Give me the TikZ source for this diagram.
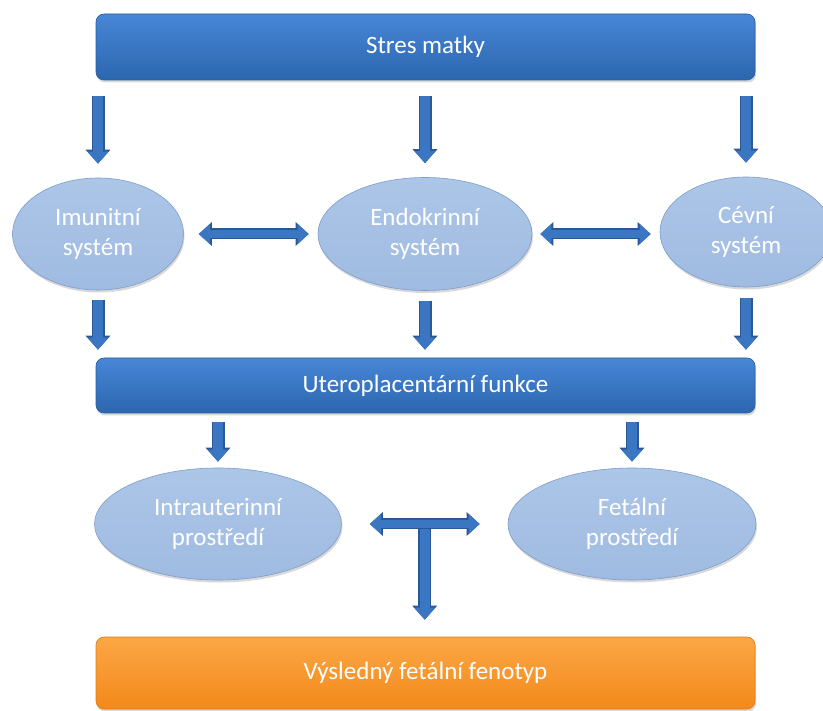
\documentclass[tikz,border=0pt]{standalone}
\usepackage{fontspec}
\setmainfont{Carlito}
\usetikzlibrary{shapes.geometric,arrows.meta,shadows,calc}
\definecolor{bartop}{HTML}{4787D7}
\definecolor{barbot}{HTML}{2C66AE}
\definecolor{barline}{HTML}{2A5E9E}
\definecolor{eltop}{HTML}{ACC6E8}
\definecolor{elbot}{HTML}{A0BBE1}
\definecolor{elline}{HTML}{7C9DCB}
\definecolor{arrowc}{HTML}{3B76C3}
\definecolor{arrowd}{HTML}{2A5896}
\definecolor{ortop}{HTML}{FBA745}
\definecolor{orbot}{HTML}{F3891B}
\definecolor{orline}{HTML}{E07E16}
\begin{document}
\begin{tikzpicture}[x=1pt,y=-1pt,
  bar/.style={rectangle, rounded corners=8pt, minimum width=659pt,
    draw=barline, line width=0.6pt, top color=bartop, bottom color=barbot,
    text=white, font=\fontsize{25}{28}\selectfont, inner sep=0pt,
    drop shadow={opacity=0.3, shadow xshift=1pt, shadow yshift=-2.5pt}},
  obar/.style={bar, draw=orline, top color=ortop, bottom color=orbot},
  oval/.style={ellipse, draw=elline, line width=0.6pt, top color=eltop,
    bottom color=elbot, text=white, align=center, inner sep=0pt,
    font=\fontsize{25}{30}\selectfont,
    drop shadow={opacity=0.3, shadow xshift=1pt, shadow yshift=-2.5pt}},
  vflow/.style={line width=10pt, draw=arrowc, -{Triangle[length=12pt,width=20pt]},
    preaction={draw=arrowd, line width=13pt, -{Triangle[length=14pt,width=24pt]}}},
  hflow/.style={line width=8.5pt, draw=arrowc,
    {Triangle[length=11pt,width=19pt]}-{Triangle[length=11pt,width=19pt]},
    preaction={draw=arrowd, line width=11pt,
      {Triangle[length=13pt,width=23pt]}-{Triangle[length=13pt,width=23pt]}}}
]
\useasboundingbox (0,0) rectangle (823,711);
\clip (0,0) rectangle (823,711);
\fill[white] (0,0) rectangle (823,711);

% bars
\node[bar, minimum height=66pt] (stres) at (425.5,47) {Stres matky};
\node[bar, minimum height=55pt] (utero) at (425.5,385.5) {Uteroplacentární funkce};
\node[obar, minimum height=72pt] (fenotyp) at (425.5,673) {Výsledný fetální fenotyp};

% ellipses
\node[oval, minimum width=171pt, minimum height=112pt] (imu) at (98,234) {Imunitní\\systém};
\node[oval, minimum width=214pt, minimum height=113pt] (endo) at (425,234) {Endokrinní\\systém};
\node[oval, minimum width=172pt, minimum height=110pt] (cev) at (746,232) {Cévní\\systém};
\node[oval, minimum width=247pt, minimum height=112pt] (intra) at (218,524) {Intrauterinní\\prostředí};
\node[oval, minimum width=248pt, minimum height=112pt] (fet) at (632,524) {Fetální\\prostředí};

% stress -> systems
\draw[vflow, shorten <=16pt, shorten >=14pt] (stres.south -| imu.north) -- (imu.north);
\draw[vflow, shorten <=16pt, shorten >=14pt] (stres.south -| endo.north) -- (endo.north);
\draw[vflow, shorten <=16pt, shorten >=14pt] (stres.south -| cev.north) -- (cev.north);

% systems interplay
\draw[hflow, shorten <=15pt, shorten >=9pt] (imu.east) -- (imu.east -| endo.west);
\draw[hflow, shorten <=8pt, shorten >=9pt] (endo.east) -- (endo.east -| cev.west);

% systems -> uteroplacental
\draw[vflow, shorten <=10pt, shorten >=8pt] (imu.south) -- (imu.south |- utero.north);
\draw[vflow, shorten <=10pt, shorten >=8pt] (endo.south) -- (endo.south |- utero.north);
\draw[vflow, shorten <=11pt, shorten >=8pt] (cev.south) -- (cev.south |- utero.north);

% uteroplacental -> environments
\draw[vflow, shorten <=9pt, shorten >=6pt] (utero.south -| intra.north) -- (intra.north);
\draw[vflow, shorten <=9pt, shorten >=6pt] (utero.south -| fet.north) -- (fet.north);

% T junction
\coordinate (tj) at ($(intra.east)!0.5!(fet.west)$);
\draw[vflow, shorten >=17pt] (tj) -- (tj |- fenotyp.north);
\draw[hflow, shorten <=28pt, shorten >=28pt] (intra.east) -- (fet.west);
\end{tikzpicture}
\end{document}
